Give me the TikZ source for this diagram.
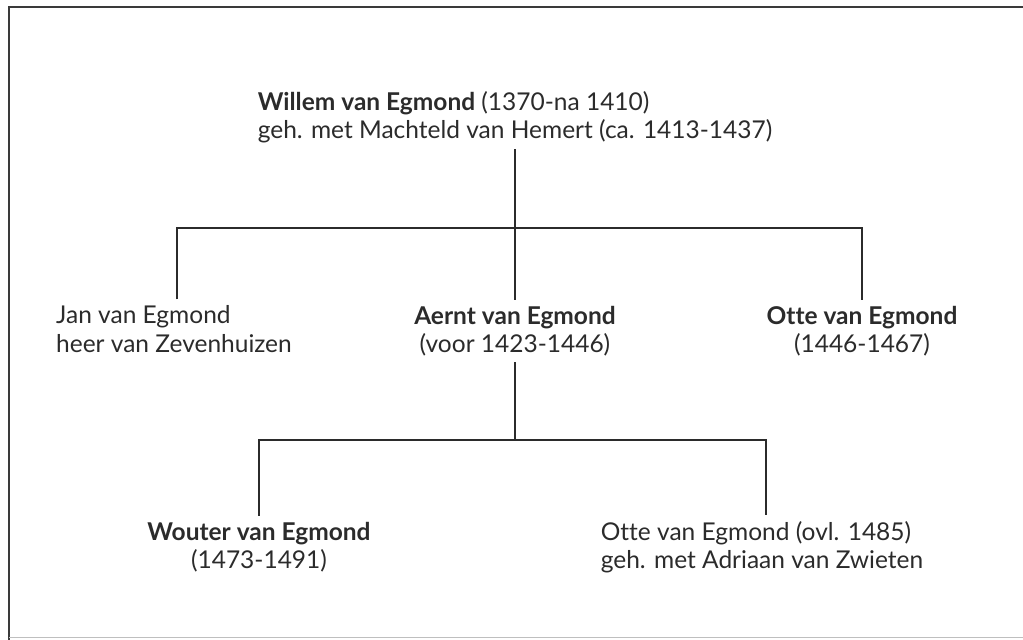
\documentclass[tikz,border=0pt]{standalone}
\usepackage{fontspec}
\setmainfont[Ligatures=NoCommon]{Lato}
\definecolor{ink}{HTML}{2B2B2B}
\definecolor{framec}{HTML}{3A3A3A}
\begin{document}
\begin{tikzpicture}[x=1pt,y=-1pt,
  person/.style={text=ink, font=\fontsize{24.5}{28.5}\selectfont, inner xsep=0pt, inner ysep=6pt},
  link/.style={draw=ink, line width=1.8pt},
  frameline/.style={draw=framec, line width=2.6pt}]
\useasboundingbox (0,0) rectangle (1023,640);
\draw[frameline] (1023,7) -- (9,7) -- (9,640);
\draw[draw=black!25, line width=1pt] (9,637) -- (1023,637);
\node[person, align=left] (willem) at (515,117) {\textbf{Willem van Egmond} (1370-na 1410)\\geh. met Machteld van Hemert (ca. 1413-1437)};
\node[person, align=left] (jan) at (174,329) {Jan van Egmond\\heer van Zevenhuizen};
\node[person, align=center] (aernt) at (515,331) {\textbf{Aernt van Egmond}\\(voor 1423-1446)};
\node[person, align=center] (otte) at (862,331) {\textbf{Otte van Egmond}\\(1446-1467)};
\node[person, align=center] (wouter) at (259,547) {\textbf{Wouter van Egmond}\\(1473-1491)};
\node[person, align=left] (otteb) at (762,547) {Otte van Egmond (ovl. 1485)\\geh. met Adriaan van Zwieten};
\coordinate (bus1) at (515,228);
\coordinate (bus2) at (515,440);
\draw[link] (willem.south) -- (aernt.north);
\draw[link] (jan.north) ++(3,0) coordinate (janup) |- (bus1) -| (otte.north);
\draw[link] (aernt.south) -- (bus2);
\draw[link] (wouter.north) |- (bus2) -| ([xshift=4pt]otteb.north);
\end{tikzpicture}
\end{document}
